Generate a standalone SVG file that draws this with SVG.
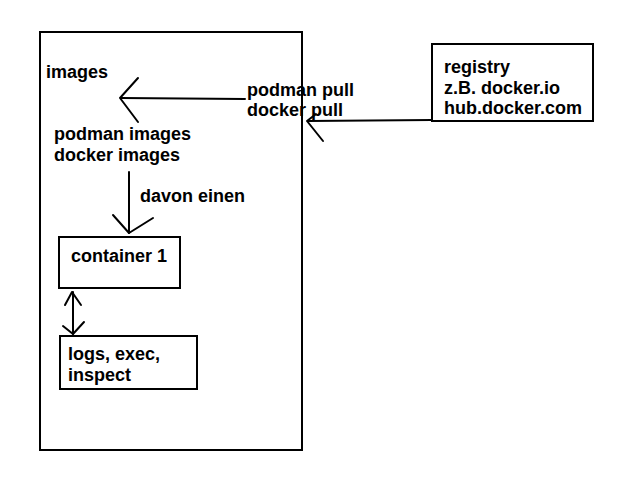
<svg xmlns="http://www.w3.org/2000/svg" width="640" height="480" viewBox="0 0 640 480">
<style>
.box{fill:none;stroke:#000;stroke-width:2}
.ln{fill:none;stroke:#000;stroke-width:2;stroke-linecap:round;stroke-linejoin:round}
text{font-family:"Liberation Sans",Arial,sans-serif;font-weight:bold;font-size:18px;fill:#000}
</style>
<rect width="640" height="480" fill="#fff"/>
<g id="host">
<rect class="box" x="40" y="32" width="262" height="418"/>
</g>
<g id="images">
<text x="46" y="78">images</text>
<text x="54" y="140">podman images</text>
<text x="54" y="161">docker images</text>
</g>
<g id="registry">
<rect class="box" x="432" y="44" width="161" height="77"/>
<text x="444" y="73">registry</text>
<text x="444" y="94">z.B. docker.io</text>
<text x="444" y="114">hub.docker.com</text>
</g>
<g id="container1">
<rect class="box" x="59" y="237" width="121" height="51"/>
<text x="71" y="262">container 1</text>
</g>
<g id="tools">
<rect class="box" x="60" y="336" width="137" height="53"/>
<text x="68" y="360">logs, exec,</text>
<text x="68" y="381">inspect</text>
</g>
<g id="connectors">
<line class="ln" x1="245" y1="99" x2="121" y2="98"/>
<polyline class="ln" points="138,78 120,98 138,122"/>
<line class="ln" x1="432" y1="120" x2="308" y2="121"/>
<polyline class="ln" points="316,114 307,121 323,141"/>
<line class="ln" x1="129" y1="172" x2="129" y2="233"/>
<polyline class="ln" points="113,215 129,233 153,218"/>
<line class="ln" x1="73" y1="292" x2="73" y2="334"/>
<polyline class="ln" points="65,305 72,292 81,305"/>
<polyline class="ln" points="63,326 73,334 84,322"/>
<text x="140" y="202">davon einen</text>
<text x="247" y="96">podman pull</text>
<text x="247" y="116">docker pull</text>
</g>
</svg>
